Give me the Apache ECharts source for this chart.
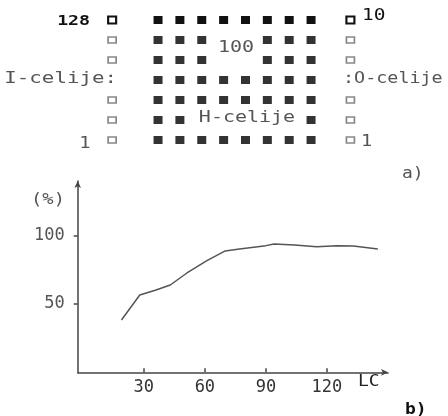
<!DOCTYPE html>
<html>
<head>
<meta charset="utf-8">
<script src="https://cdn.jsdelivr.net/npm/echarts@6/dist/echarts.min.js"></script>
<style>
  html, body { margin: 0; padding: 0; background: #fff; }
  #chart { width: 448px; height: 416px; }
</style>
</head>
<body>
<div id="chart"></div>
<script>
// part a) network: rows 1 (bottom) .. 7 (top)
var inputRows = [1, 2, 3, 5, 6, 7];
var outputRows = [1, 2, 3, 5, 6, 7];
var hiddenRowCols = [
    [1, 2, 3, 4, 5, 6, 7, 8],   // row 1
    [1, 2, 8],                  // row 2
    [1, 2, 3, 4, 5, 6, 7, 8],   // row 3
    [1, 2, 3, 4, 5, 6, 7, 8],   // row 4
    [1, 2, 3, 6, 7, 8],         // row 5
    [1, 2, 3, 6, 7, 8],         // row 6
    [1, 2, 3, 4, 5, 6, 7, 8]    // row 7
];
var inputCol = -1.1;
var outputCol = 9.8;

// part b) curve
var lcValues = [19, 28, 36, 43, 51, 61, 70, 77, 90, 94, 104, 115, 125, 133, 145];
var percentValues = [38.3, 56.6, 60.2, 63.9, 72.5, 81.7, 88.8, 90.3, 92.7, 93.9, 93.2, 91.9, 92.7, 92.5, 90.3];
var xTickValues = [30, 60, 90, 120];
var yTickValues = [50, 100];

var FONT = '"DejaVu Sans Mono", monospace';
var GRAY = '#555';

var chart = echarts.init(document.getElementById('chart'));

function cellData(col, rows, topRow) {
    return rows.map(function (r) {
        return {
            value: [col, r],
            symbolSize: r === topRow ? [8, 7] : [8, 6],
            itemStyle: r === topRow ? { borderColor: '#111', borderWidth: 2 } : {}
        };
    });
}

var hiddenData = [];
hiddenRowCols.forEach(function (cols, i) {
    var row = i + 1;
    cols.forEach(function (c) {
        hiddenData.push({
            value: [c, row],
            symbolSize: row === 7 ? [9, 8] : [9, 8],
            itemStyle: { color: row === 7 ? '#111' : '#333' }
        });
    });
});

var linePoints = lcValues.map(function (v, i) { return [v, percentValues[i]]; });

function txt(text, x, y, align, opts) {
    opts = opts || {};
    return {
        type: 'text',
        x: x,
        y: y,
        scaleX: opts.scaleX || 1.25,
        style: {
            text: text,
            x: 0,
            y: 0,
            align: align,
            verticalAlign: 'middle',
            font: (opts.weight || 'normal') + ' ' + (opts.size || 16) + 'px ' + FONT,
            fill: opts.color || GRAY
        }
    };
}

option = {
    backgroundColor: '#fff',
    animation: false,
    grid: [
        { left: 70.6, top: 0, width: 327.9, height: 160 },
        { left: 77.7, top: 181, right: 60, bottom: 43.7 }
    ],
    xAxis: [
        { gridIndex: 0, type: 'value', min: -3, max: 12, show: false },
        {
            gridIndex: 1,
            type: 'value',
            min: -2.5,
            max: 150,
            splitLine: { show: false },
            axisLine: {
                onZero: false,
                symbol: ['none', 'arrow'],
                symbolSize: [5, 7],
                lineStyle: { color: '#444', width: 1.5 }
            },
            axisTick: {
                inside: true,
                length: 4,
                customValues: xTickValues,
                lineStyle: { color: '#444', width: 1.5 }
            },
            axisLabel: {
                customValues: xTickValues,
                margin: 7,
                color: '#333',
                fontFamily: FONT,
                fontSize: 17
            }
        }
    ],
    yAxis: [
        { gridIndex: 0, type: 'value', min: 0, max: 8, show: false },
        {
            gridIndex: 1,
            type: 'value',
            min: 0,
            max: 140,
            splitLine: { show: false },
            axisLine: {
                onZero: false,
                symbol: ['none', 'arrow'],
                symbolSize: [5, 7],
                lineStyle: { color: '#444', width: 1.5 }
            },
            axisTick: {
                length: 4,
                customValues: yTickValues,
                lineStyle: { color: '#444', width: 1.5 }
            },
            axisLabel: {
                customValues: yTickValues,
                margin: 13,
                color: GRAY,
                fontFamily: FONT,
                fontSize: 17
            }
        }
    ],
    series: [
        {
            type: 'scatter',
            xAxisIndex: 0,
            yAxisIndex: 0,
            symbol: 'rect',
            itemStyle: { color: '#fff', borderColor: '#888', borderWidth: 1.5, opacity: 1 },
            data: cellData(inputCol, inputRows, 7)
        },
        {
            type: 'scatter',
            xAxisIndex: 0,
            yAxisIndex: 0,
            symbol: 'rect',
            itemStyle: { color: '#fff', borderColor: '#888', borderWidth: 1.5, opacity: 1 },
            data: cellData(outputCol, outputRows, 7)
        },
        {
            type: 'scatter',
            xAxisIndex: 0,
            yAxisIndex: 0,
            symbol: 'rect',
            itemStyle: { opacity: 1 },
            data: hiddenData
        },
        {
            type: 'line',
            xAxisIndex: 1,
            yAxisIndex: 1,
            showSymbol: false,
            lineStyle: { color: GRAY, width: 1.5 },
            data: linePoints
        }
    ],
    graphic: [
        txt('128', 90, 21, 'right', { size: 14, weight: 'bold', color: '#111', scaleX: 1.3 }),
        txt('10', 362, 16, 'left', { size: 15, color: '#111', scaleX: 1.3 }),
        txt('1', 85, 144, 'center', { size: 15 }),
        txt('1', 361, 142, 'left', { size: 15 }),
        txt('I-celije:', 117, 79, 'right', { scaleX: 1.3 }),
        txt(':O-celije', 343, 79, 'left', { scaleX: 1.15 }),
        txt('100', 236, 48, 'center'),
        txt('H-celije', 247, 118, 'center'),
        txt('a)', 402, 174, 'left', { size: 15, scaleX: 1.2 }),
        txt('(%)', 48, 200, 'center', { size: 15 }),
        txt('LC', 358, 382, 'left', { size: 15, color: '#222', scaleX: 1.2 }),
        txt('b)', 405, 410, 'left', { size: 15, weight: 'bold', color: '#111', scaleX: 1.2 })
    ]
};

chart.setOption(option);
</script>
</body>
</html>
